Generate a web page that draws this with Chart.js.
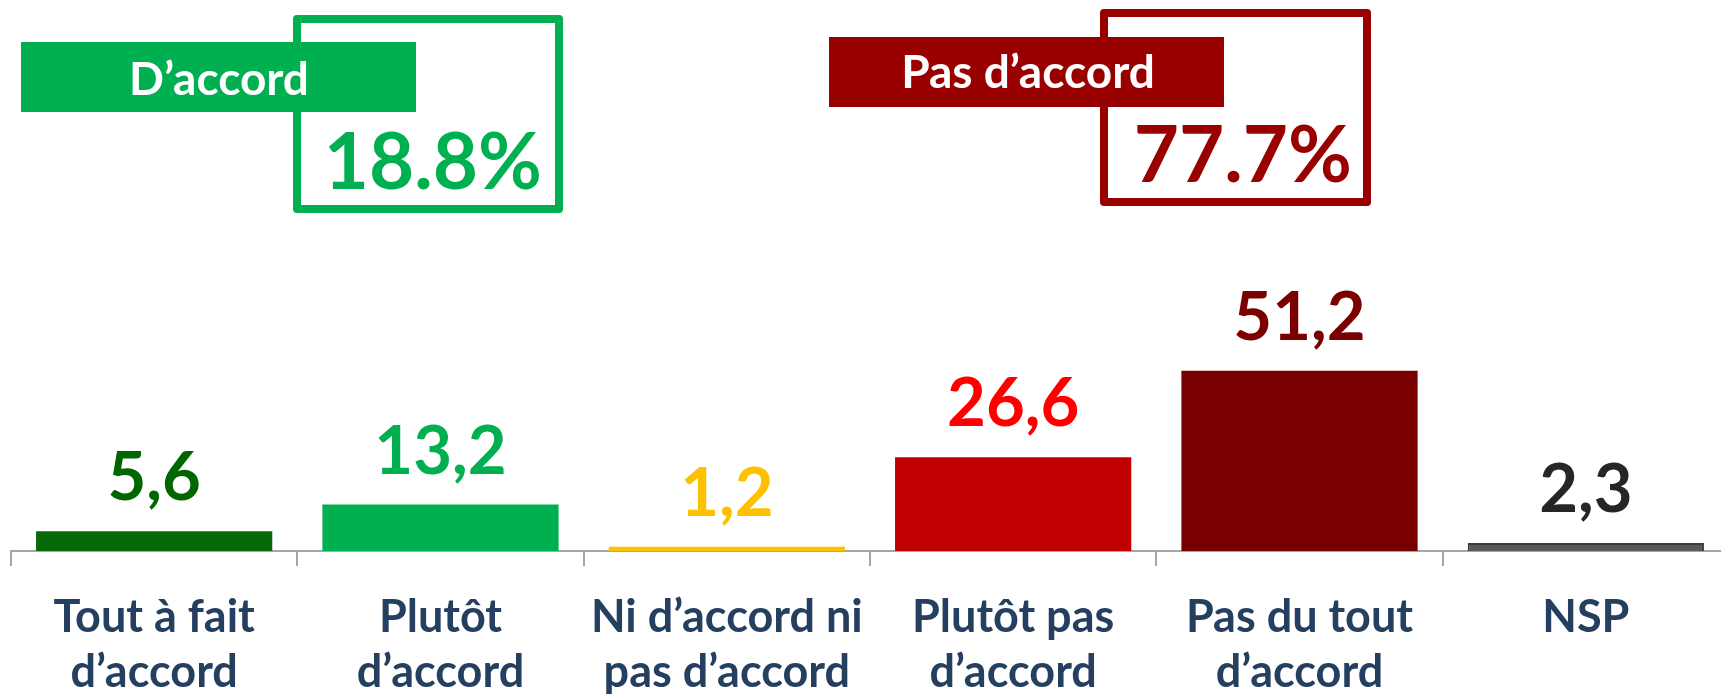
<!DOCTYPE html>
<html>
<head>
<meta charset="utf-8">
<script src="https://cdn.jsdelivr.net/npm/chart.js@4.4.0/dist/chart.umd.min.js"></script>
<style>
  html, body { margin: 0; padding: 0; background: #fff; overflow: hidden; }
  #wrap { width: 1740px; height: 694px; }
</style>
</head>
<body>
<div id="wrap"><canvas id="survey-chart" width="1740" height="694"></canvas></div>
<script>
// answers and their shares (%)
var categories = [
  ["Tout à fait", "d’accord"],
  ["Plutôt", "d’accord"],
  ["Ni d’accord ni", "pas d’accord"],
  ["Plutôt pas", "d’accord"],
  ["Pas du tout", "d’accord"],
  ["NSP"]
];
var values = [5.6, 13.2, 1.2, 26.6, 51.2, 2.3];
var barColors = ["#076907", "#00B050", "#FFC000", "#C00000", "#780000", "#595959"];
var labelColors = ["#006600", "#00B050", "#FFC000", "#FF0000", "#7B0000", "#262626"];

// summary boxes
var groupNames = ["D’accord", "Pas d’accord"];
var groupTotals = [18.8, 77.7];
var groupColors = ["#00B050", "#990000"];

var FONT = "Lato, 'Open Sans', sans-serif";

function fmt(v) {
  return v.toFixed(1).replace(".", ",");
}

var valueLabels = {
  id: "valueLabels",
  afterDatasetsDraw: function (chart) {
    var ctx = chart.ctx;
    var meta = chart.getDatasetMeta(0);
    ctx.save();
    ctx.font = "bold 67px " + FONT;
    ctx.textAlign = "center";
    ctx.textBaseline = "alphabetic";
    meta.data.forEach(function (bar, i) {
      ctx.fillStyle = labelColors[i];
      ctx.fillText(fmt(values[i]), bar.x, bar.y - 31);
    });
    ctx.restore();
  }
};

var summaryBoxes = {
  id: "summaryBoxes",
  afterDraw: function (chart) {
    var ctx = chart.ctx;
    // outline box, banner, banner text, total text
    var boxes = [
      { frame: [297, 19, 262, 190], banner: [21, 42, 395, 70], textX: 219, textY: 95, totalX: 542, totalY: 189 },
      { frame: [1104, 13, 263, 189], banner: [829, 37, 395, 70], textX: 1028, textY: 88, totalX: 1352, totalY: 182 }
    ];
    ctx.save();
    boxes.forEach(function (b, i) {
      var f = b.frame;
      ctx.strokeStyle = groupColors[i];
      ctx.lineWidth = 8;
      ctx.lineJoin = "round";
      ctx.strokeRect(f[0], f[1], f[2], f[3]);

      ctx.fillStyle = groupColors[i];
      ctx.fillRect(b.banner[0], b.banner[1], b.banner[2], b.banner[3]);

      ctx.fillStyle = "#ffffff";
      ctx.font = "bold 46px " + FONT;
      ctx.textAlign = "center";
      ctx.textBaseline = "alphabetic";
      ctx.fillText(groupNames[i], b.textX, b.textY);

      ctx.fillStyle = groupColors[i];
      ctx.font = "bold 78px " + FONT;
      ctx.textAlign = "right";
      ctx.fillText(groupTotals[i].toFixed(1) + "%", b.totalX, b.totalY);
    });
    ctx.restore();
  }
};

var chartContext = document.getElementById("survey-chart");
var chart = new Chart(chartContext, {
  type: "bar",
  data: {
    labels: categories,
    datasets: [
      {
        label: "Réponses",
        data: values,
        backgroundColor: barColors,
        borderColor: ["#076907", "#00B050", "#FFC000", "#C00000", "#780000", "#3A3A3A"],
        borderWidth: [0, 0, 0, 0, 0, 2],
        borderSkipped: "bottom",
        categoryPercentage: 1,
        barPercentage: 0.825
      }
    ]
  },
  options: {
    responsive: false,
    animation: false,
    devicePixelRatio: 1,
    layout: {
      padding: { top: 23, left: 11, right: 11, bottom: 0 }
    },
    plugins: {
      legend: { display: false },
      tooltip: { enabled: false }
    },
    scales: {
      x: {
        grid: {
          display: true,
          drawOnChartArea: false,
          drawTicks: true,
          tickLength: 15,
          color: "#A6A6A6",
          lineWidth: 2
        },
        border: { display: true, color: "#A6A6A6", width: 2 },
        ticks: {
          color: "#243F60",
          padding: 24,
          maxRotation: 0,
          autoSkip: false,
          font: { family: FONT, size: 45, weight: "bold", lineHeight: 1.22 }
        },
        afterFit: function (scale) {
          scale.height = 143;
        }
      },
      y: {
        display: false,
        min: 0,
        max: 150
      }
    }
  },
  plugins: [valueLabels, summaryBoxes]
});
</script>
</body>
</html>
